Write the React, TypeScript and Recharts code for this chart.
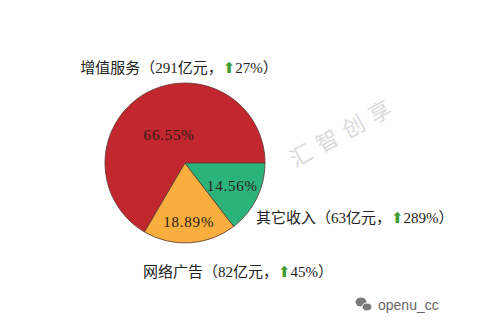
import React from "react";
import { PieChart, Pie, Cell } from "recharts";

const categories = ["增值服务", "网络广告", "其它收入"];
const shares = [66.55, 18.89, 14.56];
const revenues = [291, 82, 63];
const growth = [27, 45, 289];

const colors = ["#C1272D", "#F9AE3D", "#2BB47A"];
const innerRadiusFactor = [0.4, 0.74, 0.66];
const outerLabelPos = [
  { dx: -6, dy: -95, anchor: "middle" },
  { dx: 53, dy: 109, anchor: "middle" },
  { dx: 71, dy: 55, anchor: "start" },
];

const data = categories.map((c, i) => ({
  name: c,
  value: shares[i],
  revenue: revenues[i],
  growth: growth[i],
}));

const RAD = Math.PI / 180;
const serif = "'Liberation Serif', 'Noto Sans CJK SC', serif";
const cjk = "'Liberation Serif', 'Noto Sans CJK SC', sans-serif";

const renderLabel = (props: any) => {
  const { cx, cy, midAngle, outerRadius, index } = props;
  const r = outerRadius * innerRadiusFactor[index];
  const x = cx + r * Math.cos(-midAngle * RAD);
  const y = cy + r * Math.sin(-midAngle * RAD);
  const d = data[index];
  const p = outerLabelPos[index];
  return (
    <g>
      <text
        x={x}
        y={y}
        textAnchor="middle"
        dominantBaseline="central"
        fontFamily={serif}
        fontSize={15}
        letterSpacing={0.8}
        fill="#2a1a1a"
      >
        {d.value.toFixed(2) + "%"}
      </text>
      <text
        x={cx + p.dx}
        y={cy + p.dy}
        textAnchor={p.anchor as any}
        dominantBaseline="central"
        fontFamily={cjk}
        fontSize={15}
        fill="#222"
      >
        {`${d.name}（${d.revenue}亿元，`}
        <tspan fill="#3E9B2E" fontFamily="'DejaVu Sans', sans-serif" fontSize={15}>⬆</tspan>
        {`${d.growth}%）`}
      </text>
    </g>
  );
};

export default function App() {
  return (
    <div style={{ position: "absolute", left: 0, top: 0, width: 500, height: 333, background: "#fff" }}>
      <PieChart width={500} height={333}>
        <text
          x={343}
          y={130}
          textAnchor="middle"
          dominantBaseline="central"
          fontFamily="'Noto Sans CJK SC', sans-serif"
          fontSize={22}
          letterSpacing={8}
          fill="#DADADA"
          transform="rotate(-29 343 130)"
        >
          汇智创享
        </text>
        <Pie
          data={data}
          dataKey="value"
          nameKey="name"
          cx={180}
          cy={158}
          outerRadius={80}
          startAngle={0}
          endAngle={360}
          stroke="#5a3535"
          strokeWidth={0.8}
          label={renderLabel}
          labelLine={false}
          isAnimationActive={false}
        >
          {data.map((d, i) => (
            <Cell key={d.name} fill={colors[i]} />
          ))}
        </Pie>
        <g fill="#7a7a7a">
          <ellipse cx={361} cy={302} rx={5.5} ry={4.5} />
          <ellipse cx={367} cy={307} rx={5} ry={4} stroke="#fff" strokeWidth={1} />
        </g>
        <text
          x={378}
          y={305}
          dominantBaseline="central"
          fontFamily="'Liberation Sans', Arial, sans-serif"
          fontSize={14}
          fill="#666"
        >
          openu_cc
        </text>
      </PieChart>
    </div>
  );
}
